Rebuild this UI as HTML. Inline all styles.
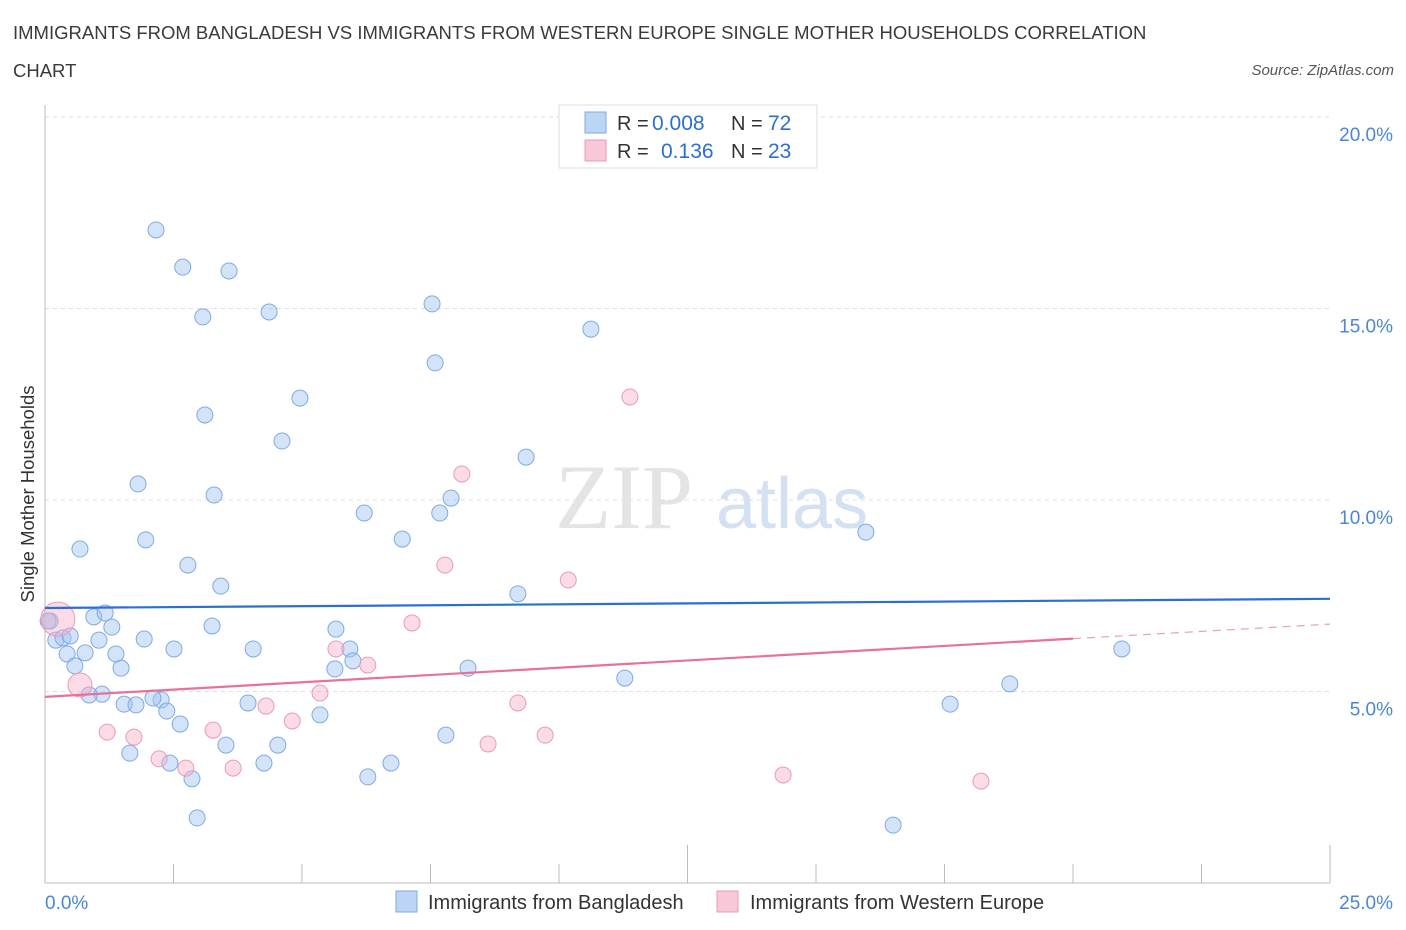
<!DOCTYPE html>
<html><head><meta charset="utf-8"><style>
body{margin:0;background:#fff;font-family:"Liberation Sans",sans-serif}
.t{position:absolute;left:13px;color:#3a3a3a;font-size:18.5px}
</style></head><body>
<div style="position:relative;width:1406px;height:930px;overflow:hidden">
<div class="t" style="top:22px">IMMIGRANTS FROM BANGLADESH VS IMMIGRANTS FROM WESTERN EUROPE SINGLE MOTHER HOUSEHOLDS CORRELATION</div>
<div class="t" style="top:60px">CHART</div>
<div style="position:absolute;right:12px;top:62px;font-size:15px;font-style:italic;color:#555">Source: ZipAtlas.com</div>
<svg id="c" width="1406" height="930" style="position:absolute;left:0;top:0"></svg>
</div>
<script>
const blueX=[2.16,2.68,3.58,3.07,4.36,7.53,10.62,7.59,4.96,3.11,4.61,9.36,1.81,3.29,7.90,6.21,7.68,15.97,0.68,1.96,6.95,2.78,3.42,9.20,0.95,1.17,1.30,3.25,5.66,0.10,0.21,0.35,0.49,1.05,1.93,0.78,0.43,1.38,2.51,4.05,5.93,5.99,0.58,1.48,5.64,8.23,20.95,11.28,1.11,2.26,3.95,0.86,1.54,1.77,2.10,2.37,2.63,5.35,17.61,18.77,7.80,3.52,4.53,1.65,2.43,4.26,6.73,2.86,6.28,2.96,16.50,0.06];
const blueY=[17.05,16.08,15.98,14.78,14.91,15.12,14.46,13.58,12.66,12.22,11.54,11.12,10.42,10.13,10.05,9.66,9.66,9.16,8.72,8.96,8.98,8.30,7.75,7.55,6.95,7.05,6.68,6.71,6.63,6.84,6.34,6.40,6.45,6.34,6.37,6.01,5.98,5.98,6.11,6.11,6.11,5.80,5.67,5.61,5.59,5.61,6.11,5.35,4.93,4.78,4.70,4.91,4.67,4.65,4.83,4.49,4.15,4.39,4.67,5.20,3.86,3.60,3.60,3.39,3.13,3.13,3.13,2.72,2.77,1.70,1.51,6.84];
const pinkX=[11.38,8.11,7.78,10.18,7.14,5.66,6.28,5.35,4.30,9.20,1.21,1.73,3.27,4.81,9.73,8.62,2.22,2.74,3.66,14.36,18.21,0.25,0.68];
const pinkY=[12.69,10.68,8.30,7.91,6.79,6.11,5.69,4.96,4.62,4.70,3.94,3.81,3.99,4.23,3.86,3.63,3.24,3.00,3.00,2.82,2.66,6.89,5.17];
const pinkR=[8,8,8,8,8,8,8,8,8,8,8,8,8,8,8,8,8,8,8,8,8,17,12];
const blueTrend=[7.18,7.42];
const pinkTrend=[4.86,6.76];
const pinkSolidEnd=20;
const yTicks=[5,10,15,20];
const yTickLabels=["5.0%","10.0%","15.0%","20.0%"];
const xTicks=[0,2.5,5,7.5,10,12.5,15,17.5,20,22.5,25];
const X=v=>45+v/25*1285, Y=v=>883-v/5*191.5;
const s=document.getElementById('c'),NS='http://www.w3.org/2000/svg';
function mk(t,a,txt){const e=document.createElementNS(NS,t);for(const k in a)e.setAttribute(k,a[k]);if(txt!=null)e.textContent=txt;s.appendChild(e);return e;}
yTicks.forEach((v,i)=>{
 let g=mk('line',{x1:45,x2:1330,y1:Y(v),y2:Y(v),stroke:'#ddd','stroke-dasharray':'4,4'});
 
 
 let t=mk('text',{x:1393,y:Y(v)+24,'text-anchor':'end','font-size':19,fill:'#4a86d8'},yTickLabels[i]);
 
 
});
let ax=mk('line',{x1:45,x2:45,y1:105,y2:883,stroke:'#bbb'});


let bx=mk('line',{x1:45,x2:1330,y1:883,y2:883,stroke:'#bbb'});


xTicks.forEach(v=>{if(v===0)return;let l=mk('line',{x1:X(v),x2:X(v),y1:883,y2:(v===12.5||v===25)?845:864,stroke:'#bbb'});
 
 });
let wm=mk('text',{x:555,y:528,'font-size':92,'font-family':'Liberation Serif',fill:'#e4e4e4'},'ZIP');


let wm2=mk('text',{x:716,y:528,'font-size':72,fill:'#d3e1f3'},'atlas');


blueX.forEach((v,i)=>{let c=mk('circle',{cx:X(v),cy:Y(blueY[i]),r:8,fill:'rgba(160,195,240,0.45)',stroke:'#7eaae4','stroke-width':1});
 
 });
pinkX.forEach((v,i)=>{let c=mk('circle',{cx:X(v),cy:Y(pinkY[i]),r:pinkR[i],fill:'rgba(245,175,200,0.45)',stroke:'#eb9ab8','stroke-width':1});
 
 });
let bl=mk('line',{x1:X(0),y1:Y(blueTrend[0]),x2:X(25),y2:Y(blueTrend[1]),stroke:'#2a6fd2','stroke-width':2.2});


const pAt=x=>pinkTrend[0]+(pinkTrend[1]-pinkTrend[0])*x/25;
let pl=mk('line',{x1:X(0),y1:Y(pAt(0)),x2:X(pinkSolidEnd),y2:Y(pAt(pinkSolidEnd)),stroke:'#e8709a','stroke-width':2.2});


let pd=mk('line',{x1:X(pinkSolidEnd),y1:Y(pAt(pinkSolidEnd)),x2:X(25),y2:Y(pAt(25)),stroke:'#e8a0ba','stroke-width':1.2,'stroke-dasharray':'8,6'});


let xl=mk('text',{x:45,y:909,'font-size':19,fill:'#4a86d8'},'0.0%');


let xr=mk('text',{x:1393,y:909,'font-size':19,fill:'#4a86d8','text-anchor':'end'},'25.0%');


let yt=mk('text',{x:0,y:0,'font-size':18.5,fill:'#333','text-anchor':'middle',transform:'translate(34,494) rotate(-90)'},'Single Mother Households');


let lb=mk('rect',{x:559,y:105,width:258,height:63,fill:'#fff',stroke:'#ddd'});


[[112,'rgba(160,195,240,0.7)','#7eaae4','0.008','72','R = ',652],[140,'rgba(245,175,200,0.7)','#eb9ab8','0.136','23','R = ',661]].forEach(r=>{
 let q=mk('rect',{x:585,y:r[0],width:21,height:21,fill:r[1],stroke:r[2]});
 
 
 let t=mk('text',{x:617,y:r[0]+18,'font-size':20,fill:'#333'},r[5]);
 
 
 let v=mk('text',{x:r[6],y:r[0]+18,'font-size':21,fill:'#2a6fd2'},r[3]);
 
 
 let n=mk('text',{x:731,y:r[0]+18,'font-size':20,fill:'#333'},'N = ');
 
 
 let nv=mk('text',{x:768,y:r[0]+18,'font-size':21,fill:'#2a6fd2'},r[4]);
 
 
});
[[396,'rgba(160,195,240,0.7)','#7eaae4','Immigrants from Bangladesh',428],[717,'rgba(245,175,200,0.7)','#eb9ab8','Immigrants from Western Europe',750]].forEach(r=>{
 let q=mk('rect',{x:r[0],y:891,width:21,height:21,fill:r[1],stroke:r[2]});
 
 
 let t=mk('text',{x:r[4],y:909,'font-size':20,fill:'#333'},r[3]);
 
 
});
</script>
</body></html>
